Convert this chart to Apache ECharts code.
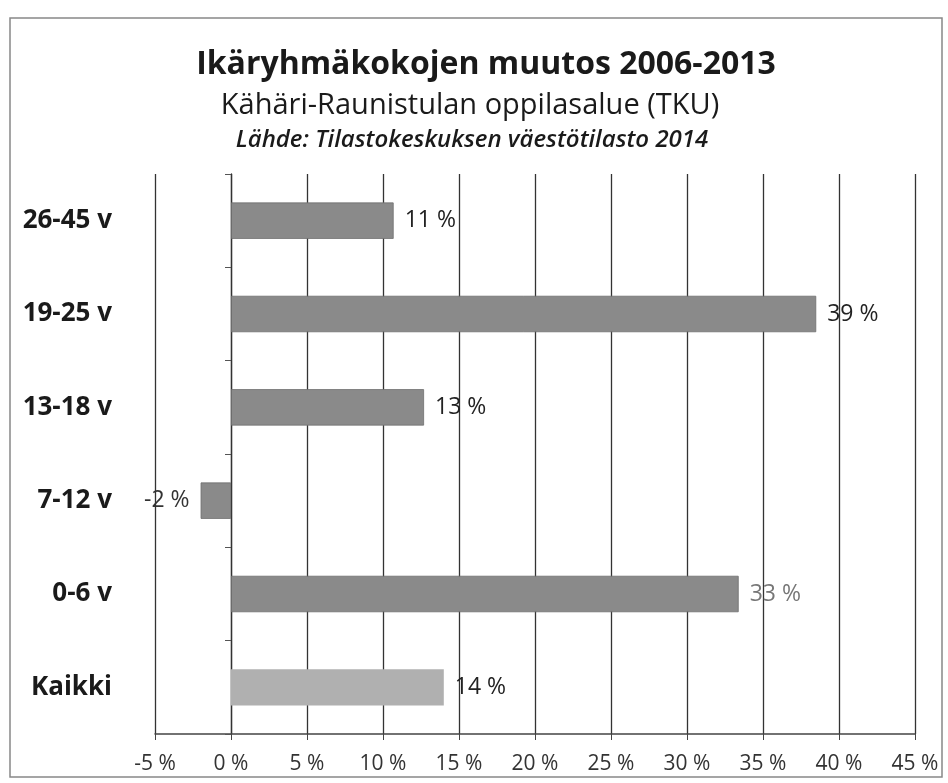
<!DOCTYPE html>
<html><head><meta charset="utf-8">
<script src="https://cdn.jsdelivr.net/npm/echarts@6/dist/echarts.min.js"></script>
<style>html,body{margin:0;padding:0;background:#fff}#c{width:948px;height:783px}</style>
</head><body><div id="c"></div>
<script>
const categories = ['Kaikki', '0-6 v', '7-12 v', '13-18 v', '19-25 v', '26-45 v'];
const values = [14.0, 33.4, -2.0, 12.7, 38.5, 10.7];
const labels = ['14 %', '33 %', '-2 %', '13 %', '39 %', '11 %'];
const barColors = ['#b0b0b0', '#8a8a8a', '#8a8a8a', '#8a8a8a', '#8a8a8a', '#8a8a8a'];
const labelColors = ['#222', '#777', '#333', '#222', '#222', '#222'];
const xMin = -5, xMax = 45, xStep = 5;

const chart = echarts.init(document.getElementById('c'), null, {renderer: 'canvas'});
const font = '"Open Sans", "Noto Sans", sans-serif';
chart.setOption({
  backgroundColor: '#fff',
  animation: false,
  title: [
    {text: 'Ikäryhmäkokojen muutos 2006-2013', left: 481, top: 44, textAlign: 'center',
     textStyle: {fontFamily: font, fontSize: 32, fontWeight: 'bold', color: '#1a1a1a'}},
    {text: 'Kähäri-Raunistulan oppilasalue (TKU)', left: 465, top: 86, textAlign: 'center',
     textStyle: {fontFamily: font, fontSize: 29, fontWeight: 'normal', color: '#1a1a1a'}},
    {text: 'Lähde: Tilastokeskuksen väestötilasto 2014', left: 467, top: 123, textAlign: 'center',
     textStyle: {fontFamily: font, fontSize: 24, fontWeight: '600', fontStyle: 'italic', color: '#1a1a1a'}}
  ],
  graphic: [{type: 'rect', shape: {x: 10, y: 18, width: 932, height: 759},
    style: {fill: 'none', stroke: '#888', lineWidth: 1.5}, silent: true}],
  grid: {left: 155, right: 33, top: 174, bottom: 49, containLabel: false},
  xAxis: {
    type: 'value', min: xMin, max: xMax, interval: xStep,
    axisLine: {show: true, onZero: false, lineStyle: {color: '#444', width: 1.5}},
    axisTick: {show: true, length: 6, lineStyle: {color: '#444'}},
    splitLine: {show: true, lineStyle: {color: '#333', width: 1.3}},
    axisLabel: {formatter: v => v + ' %', fontFamily: font, fontSize: 21, color: '#333', margin: 20}
  },
  yAxis: [{
    type: 'category', data: categories,
    axisLine: {show: false, onZero: false}, axisTick: {show: false},
    axisLabel: {fontFamily: font, fontSize: 26, fontWeight: 'bold', color: '#1a1a1a', margin: 43}
  }, {
    type: 'category', data: categories, position: 'left',
    axisLine: {show: true, onZero: true, lineStyle: {color: '#333', width: 1.3}},
    axisTick: {show: true, inside: false, length: 6, lineStyle: {color: '#555'}},
    axisLabel: {show: false}
  }],
  series: [{
    type: 'bar', yAxisIndex: 0, barWidth: '39%',
    data: values.map((v, i) => ({value: v,
      itemStyle: {color: barColors[i], borderColor: '#6f6f6f', borderWidth: i === 0 ? 0 : 0.8},
      label: {show: true, position: v < 0 ? 'left' : 'right', formatter: labels[i],
        color: labelColors[i], fontFamily: font, fontSize: 23, distance: 11}}))
  }]
});
</script></body></html>
